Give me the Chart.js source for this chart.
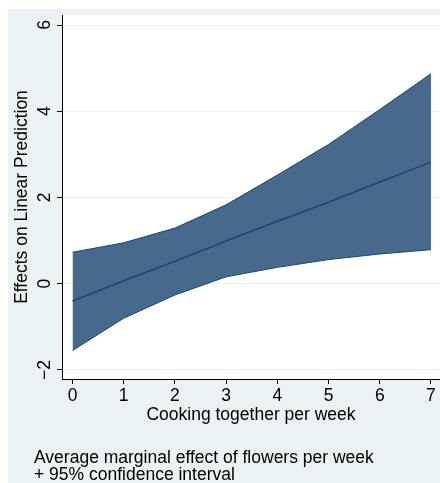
<!DOCTYPE html>
<html>
<head>
<meta charset="utf-8">
<script src="https://cdn.jsdelivr.net/npm/chart.js@4.4.1/dist/chart.umd.min.js"></script>
<style>
    html, body { margin: 0; padding: 0; background: #ffffff; }
    #wrap { position: absolute; left: 0; top: 0; width: 440px; height: 483px; }
</style>
</head>
<body>
<div id="wrap"><canvas id="effectChart" width="440" height="483"></canvas></div>
<script>
// cooking together per week (x)
const cooking = [0, 1, 2, 3, 4, 5, 6, 7];
// marginal effect of flowers + 95% CI
const effect = [-0.40, 0.07, 0.52, 0.99, 1.45, 1.89, 2.36, 2.82];
const upperCI = [0.73, 0.95, 1.29, 1.83, 2.52, 3.23, 4.04, 4.87];
const lowerCI = [-1.55, -0.80, -0.26, 0.16, 0.38, 0.56, 0.69, 0.79];
// tick labels
const xTicks = [0, 1, 2, 3, 4, 5, 6, 7];
const yTicks = [-2, 0, 2, 4, 6];

const theme = {
    navy: '#1a476f',
    band: '#48698b',
    bg: '#eaf2f3',
    grid: '#eaf2f3',
    text: '#000000'
};
const fontFamily = '"Liberation Sans", Arial, sans-serif';
const fontSize = 17.5;

const toPoints = (ys) => cooking.map((x, i) => ({ x: x, y: ys[i] }));

// background, rotated y labels, titles and note
const stataLook = {
    id: 'stataLook',
    beforeDraw(chart) {
        const ctx = chart.ctx;
        const area = chart.chartArea;
        ctx.save();
        ctx.fillStyle = theme.bg;
        ctx.fillRect(8, 9, 432, 474);
        ctx.fillStyle = '#ffffff';
        ctx.fillRect(area.left, area.top, area.right - area.left, area.bottom - area.top);
        ctx.restore();
    },
    afterDraw(chart) {
        const ctx = chart.ctx;
        const area = chart.chartArea;
        const yScale = chart.scales.y;
        ctx.save();
        ctx.fillStyle = theme.text;
        ctx.font = fontSize + 'px ' + fontFamily;
        ctx.textAlign = 'center';
        ctx.textBaseline = 'middle';
        // y tick labels, vertical like Stata
        yTicks.forEach(function (v) {
            const py = yScale.getPixelForValue(v);
            ctx.save();
            ctx.translate(45, py);
            ctx.rotate(-Math.PI / 2);
            ctx.fillText(v < 0 ? '\u2212' + Math.abs(v) : String(v), 0, 0);
            ctx.restore();
        });
        // y title
        ctx.save();
        ctx.translate(22, (area.top + area.bottom) / 2);
        ctx.rotate(-Math.PI / 2);
        ctx.fillText('Effects on Linear Prediction', 0, 0);
        ctx.restore();
        // x title
        ctx.fillText('Cooking together per week', (area.left + area.right) / 2, 415);
        // note
        ctx.textAlign = 'left';
        ctx.fillText('Average marginal effect of flowers per week', 34, 458);
        ctx.fillText('+ 95% confidence interval', 34, 475);
        ctx.restore();
    }
};

const lineData = {
    datasets: [
        {
            label: 'lower',
            data: toPoints(lowerCI),
            borderColor: theme.navy,
            borderWidth: 1,
            backgroundColor: theme.band,
            pointRadius: 0,
            fill: false,
            order: 2
        },
        {
            label: 'upper',
            data: toPoints(upperCI),
            borderColor: theme.navy,
            borderWidth: 1,
            backgroundColor: theme.band,
            pointRadius: 0,
            fill: '-1',
            order: 2
        },
        {
            label: 'effect',
            data: toPoints(effect),
            borderColor: theme.navy,
            borderWidth: 1.5,
            pointRadius: 0,
            fill: false,
            order: 1
        }
    ]
};

const lineOptions = {
    responsive: false,
    animation: false,
    layout: {
        padding: { left: 0, top: 15, right: 0, bottom: 0 }
    },
    elements: {
        line: { tension: 0 }
    },
    plugins: {
        legend: { display: false },
        tooltip: { enabled: false }
    },
    scales: {
        x: {
            type: 'linear',
            min: -0.205,
            max: 7.176,
            afterBuildTicks: (scale) => { scale.ticks = xTicks.map(v => ({ value: v })); },
            afterFit: (scale) => { scale.height = 104; },
            border: { display: true, color: '#000000', width: 1 },
            grid: {
                display: true,
                drawOnChartArea: false,
                drawTicks: true,
                tickLength: 5,
                tickColor: '#000000'
            },
            ticks: {
                color: theme.text,
                font: { family: fontFamily, size: fontSize },
                padding: 2,
                maxRotation: 0
            }
        },
        y: {
            type: 'linear',
            min: -2.209,
            max: 6.232,
            afterBuildTicks: (scale) => { scale.ticks = yTicks.map(v => ({ value: v })); },
            afterFit: (scale) => { scale.width = 62; },
            border: { display: true, color: '#000000', width: 1 },
            grid: {
                color: theme.grid,
                lineWidth: 1,
                drawTicks: true,
                tickLength: 5,
                tickColor: '#000000'
            },
            ticks: { display: false }
        }
    }
};

const effectChart = new Chart(
    document.getElementById('effectChart'),
    {
        type: 'line',
        data: lineData,
        options: lineOptions,
        plugins: [stataLook]
    }
);
</script>
</body>
</html>
